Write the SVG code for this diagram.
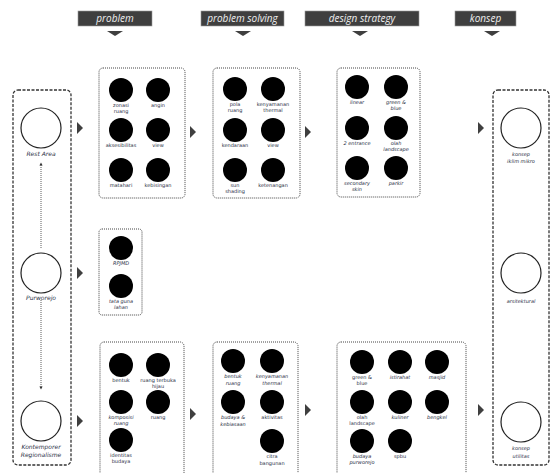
<svg xmlns="http://www.w3.org/2000/svg" width="553" height="473" viewBox="0 0 553 473">
<style>
.hdr{fill:#3f3f3f;stroke:#9a9a9a;stroke-width:0.6}
.ht{font-family:"Open Sans","DejaVu Sans",sans-serif;font-style:italic;font-size:10px;fill:#f0f0f0;text-anchor:middle}
.tri{fill:#3f3f3f}
.dash{fill:none;stroke:#333;stroke-width:1.3;stroke-dasharray:3 1.5}
.dot{fill:none;stroke:#444;stroke-width:1;stroke-dasharray:1 1}
.oc{fill:#fff;stroke:#222;stroke-width:1.2}
.bc{fill:#000}
.l{font-family:"DejaVu Sans",sans-serif;font-size:5px;fill:#2a2f45;text-anchor:middle}
.li{font-family:"DejaVu Sans",sans-serif;font-size:5px;font-style:italic;fill:#2a2f45;text-anchor:middle}
.big{font-family:"DejaVu Sans",sans-serif;font-size:6px;font-style:italic;fill:#2a2f45;text-anchor:middle}
</style>
<defs>
<marker id="ah" viewBox="0 0 6 6" refX="3" refY="3" markerWidth="4" markerHeight="4" orient="auto"><path d="M0,0 L6,3 L0,6 Z" fill="#333"/></marker>
</defs>
<rect width="553" height="473" fill="#fff"/>
<g id="headers">
<rect class="hdr" x="78" y="11" width="74" height="15"/><text class="ht" x="115" y="22">problem</text><path class="tri" d="M107,31 L123,31 L115,36 Z"/>
<rect class="hdr" x="201" y="11" width="83" height="15"/><text class="ht" x="242.5" y="22">problem solving</text><path class="tri" d="M235,31 L251,31 L243,36 Z"/>
<rect class="hdr" x="305" y="11" width="114" height="15"/><text class="ht" x="362" y="22">design strategy</text><path class="tri" d="M352,31 L368,31 L360,36 Z"/>
<rect class="hdr" x="455" y="11" width="61" height="15"/><text class="ht" x="485.5" y="22">konsep</text><path class="tri" d="M484,31 L500,31 L492,36 Z"/>
</g>
<g id="connectors">
<line x1="41" y1="248" x2="41" y2="164" stroke="#333" stroke-width="0.8" stroke-dasharray="1 1" marker-end="url(#ah)"/>
<line x1="41" y1="300" x2="41" y2="388" stroke="#333" stroke-width="0.8" stroke-dasharray="1 1" marker-end="url(#ah)"/>
<path class="tri" d="M77,122 L83,128 L77,134 Z"/>
<path class="tri" d="M77,267 L83,273 L77,279 Z"/>
<path class="tri" d="M77,415 L83,421 L77,427 Z"/>
<path class="tri" d="M190,126 L196,132 L190,138 Z"/>
<path class="tri" d="M305,126 L311,132 L305,138 Z"/>
<path class="tri" d="M478,122 L484,128 L478,134 Z"/>
<path class="tri" d="M190,408 L196,414 L190,420 Z"/>
<path class="tri" d="M305,404 L311,410 L305,416 Z"/>
<path class="tri" d="M478,404 L484,410 L478,416 Z"/>
</g>
<g id="left">
<rect class="dash" x="13" y="90" width="58" height="375" rx="5"/>
<g id="rest-area"><circle class="oc" cx="41" cy="128" r="20"/><text class="big" x="41" y="156">Rest Area</text></g>
<g id="purworejo"><circle class="oc" cx="41" cy="273" r="20"/><text class="big" x="41" y="300">Purworejo</text></g>
<g id="kontemporer"><circle class="oc" cx="41" cy="421" r="20"/><text class="big" x="41" y="449">Kontemporer</text><text class="big" x="41" y="457">Regionalisme</text></g>
</g>
<g id="right">
<rect class="dash" x="493" y="90" width="56" height="375" rx="5"/>
<g id="iklim"><circle class="oc" cx="521" cy="128" r="20"/><text class="li" x="521" y="156">konsep</text><text class="li" x="521" y="163">iklim mikro</text></g>
<g id="arsitektural"><circle class="oc" cx="521" cy="273" r="20"/><text class="li" x="521" y="303">arsitektural</text></g>
<g id="utilitas"><circle class="oc" cx="521" cy="422" r="20"/><text class="li" x="521" y="450">konsep</text><text class="li" x="521" y="458">utilitas</text></g>
</g>
<g id="problem-top">
<rect class="dot" x="99" y="68" width="86" height="130" rx="4"/>
<circle class="bc" cx="121" cy="90" r="12"/><text class="l" x="121" y="107">zonasi</text><text class="l" x="121" y="113">ruang</text>
<circle class="bc" cx="158" cy="90" r="12"/><text class="l" x="158" y="107">angin</text>
<circle class="bc" cx="121" cy="130" r="12"/><text class="l" x="121" y="147">aksesibilitas</text>
<circle class="bc" cx="158" cy="130" r="12"/><text class="l" x="158" y="147">view</text>
<circle class="bc" cx="121" cy="170" r="12"/><text class="l" x="121" y="187">matahari</text>
<circle class="bc" cx="158" cy="170" r="12"/><text class="l" x="158" y="187">kebisingan</text>
</g>
<g id="ps-top">
<rect class="dot" x="213" y="68" width="87" height="130" rx="4"/>
<circle class="bc" cx="235" cy="89" r="12"/><text class="l" x="235" y="106">pola</text><text class="l" x="235" y="112">ruang</text>
<circle class="bc" cx="273" cy="89" r="12"/><text class="l" x="273" y="106">kenyamanan</text><text class="l" x="273" y="112">thermal</text>
<circle class="bc" cx="235" cy="130" r="12"/><text class="l" x="235" y="147">kendaraan</text>
<circle class="bc" cx="273" cy="130" r="12"/><text class="l" x="273" y="147">view</text>
<circle class="bc" cx="235" cy="170" r="12"/><text class="l" x="235" y="187">sun</text><text class="l" x="235" y="193">shading</text>
<circle class="bc" cx="273" cy="170" r="12"/><text class="l" x="273" y="187">ketenangan</text>
</g>
<g id="ds-top">
<rect class="dot" x="337" y="68" width="83" height="129" rx="4"/>
<circle class="bc" cx="357" cy="87" r="12"/><text class="li" x="357" y="104">linear</text>
<circle class="bc" cx="396" cy="87" r="12"/><text class="li" x="396" y="104">green &amp;</text><text class="li" x="396" y="110">blue</text>
<circle class="bc" cx="357" cy="128" r="12"/><text class="li" x="357" y="145">2 entrance</text>
<circle class="bc" cx="396" cy="128" r="12"/><text class="li" x="396" y="145">olah</text><text class="li" x="396" y="151">landscape</text>
<circle class="bc" cx="357" cy="168" r="12"/><text class="li" x="357" y="185">secondary</text><text class="li" x="357" y="191">skin</text>
<circle class="bc" cx="396" cy="168" r="12"/><text class="li" x="396" y="185">parkir</text>
</g>
<g id="problem-mid">
<rect class="dot" x="99" y="229" width="43" height="86" rx="3"/>
<circle class="bc" cx="121" cy="248" r="12"/><text class="li" x="121" y="265">RPJMD</text>
<circle class="bc" cx="121" cy="286" r="12"/><text class="li" x="121" y="303">tata guna</text><text class="li" x="121" y="309">lahan</text>
</g>
<g id="problem-bot">
<rect class="dot" x="100" y="342" width="84" height="140" rx="4"/>
<circle class="bc" cx="121" cy="365" r="12"/><text class="l" x="121" y="382">bentuk</text>
<circle class="bc" cx="158" cy="365" r="12"/><text class="l" x="158" y="382">ruang terbuka</text><text class="l" x="158" y="388">hijau</text>
<circle class="bc" cx="121" cy="402" r="12"/><text class="li" x="121" y="419">komposisi</text><text class="li" x="121" y="425">ruang</text>
<circle class="bc" cx="158" cy="402" r="12"/><text class="l" x="158" y="419">ruang</text>
<circle class="bc" cx="121" cy="440" r="12"/><text class="l" x="121" y="457">identitas</text><text class="l" x="121" y="463">budaya</text>
</g>
<g id="ps-bot">
<rect class="dot" x="213" y="342" width="85" height="140" rx="4"/>
<circle class="bc" cx="233" cy="361" r="12"/><text class="li" x="233" y="378">bentuk</text><text class="li" x="233" y="385">ruang</text>
<circle class="bc" cx="272" cy="361" r="12"/><text class="li" x="272" y="378">kenyamanan</text><text class="li" x="272" y="385">thermal</text>
<circle class="bc" cx="233" cy="402" r="12"/><text class="li" x="233" y="419">budaya &amp;</text><text class="li" x="233" y="426">kebiasaan</text>
<circle class="bc" cx="272" cy="402" r="12"/><text class="l" x="272" y="419">aktivitas</text>
<circle class="bc" cx="272" cy="441" r="12"/><text class="l" x="272" y="458">citra</text><text class="l" x="272" y="465">bangunan</text>
</g>
<g id="ds-bot">
<rect class="dot" x="337" y="342" width="129" height="140" rx="4"/>
<circle class="bc" cx="362" cy="362" r="12"/><text class="l" x="362" y="379">green &amp;</text><text class="l" x="362" y="385">blue</text>
<circle class="bc" cx="400" cy="362" r="12"/><text class="li" x="400" y="379">istirahat</text>
<circle class="bc" cx="437" cy="362" r="12"/><text class="li" x="437" y="379">masjid</text>
<circle class="bc" cx="362" cy="402" r="12"/><text class="l" x="362" y="419">olah</text><text class="l" x="362" y="425">landscape</text>
<circle class="bc" cx="400" cy="402" r="12"/><text class="li" x="400" y="419">kuliner</text>
<circle class="bc" cx="437" cy="402" r="12"/><text class="li" x="437" y="419">bengkel</text>
<circle class="bc" cx="362" cy="441" r="12"/><text class="li" x="362" y="458">budaya</text><text class="li" x="362" y="464">purworejo</text>
<circle class="bc" cx="400" cy="441" r="12"/><text class="l" x="400" y="458">spbu</text>
</g>
</svg>
